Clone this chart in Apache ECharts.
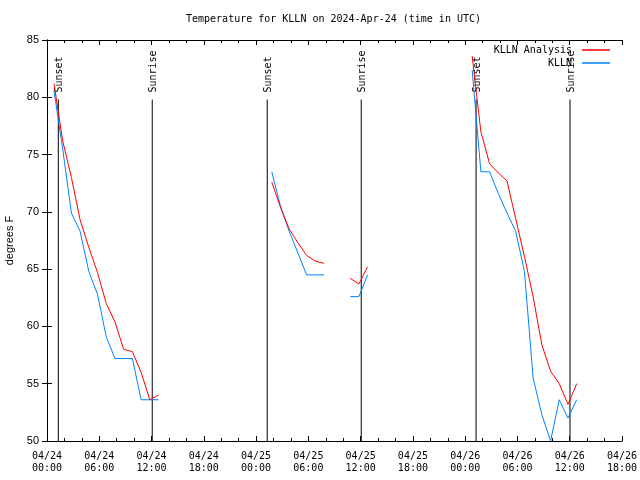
<!DOCTYPE html>
<html>
<head>
<meta charset="utf-8">
<script src="https://cdn.jsdelivr.net/npm/echarts@6/dist/echarts.min.js"></script>
<style>
html,body{margin:0;padding:0;background:#fff;}
#chart{width:640px;height:480px;}
</style>
</head>
<body>
<div id="chart"></div>
<script>
// Hours since 2024-04-24 00:00 UTC
var tickLabels = ["04/24\n00:00","04/24\n06:00","04/24\n12:00","04/24\n18:00",
                  "04/25\n00:00","04/25\n06:00","04/25\n12:00","04/25\n18:00",
                  "04/26\n00:00","04/26\n06:00","04/26\n12:00","04/26\n18:00"];

var times1 = [0.8,1.8,2.8,3.8,4.8,5.8,6.8,7.8,8.8,9.8,10.8,11.8,12.8];
var analysis1 = [81.2,76.2,73.0,69.3,66.9,64.7,62.0,60.4,58.0,57.8,56.0,53.6,54.0];
var obs1 = [80.6,75.5,69.9,68.3,64.8,62.8,59.1,57.2,57.2,57.2,53.6,53.6,53.6];

var times2 = [25.8,26.8,27.8,28.8,29.8,30.8,31.8];
var analysis2 = [72.6,70.4,68.5,67.3,66.2,65.7,65.5];
var obs2 = [73.5,70.5,68.3,66.4,64.5,64.5,64.5];

var times3 = [34.8,35.8,36.8];
var analysis3 = [64.2,63.7,65.2];
var obs3 = [62.6,62.6,64.5];

var times4 = [48.8,49.8,50.8,51.8,52.8,53.8,54.8,55.8,56.8,57.8,58.8,59.8,60.8];
var analysis4 = [83.6,77.0,74.2,73.4,72.7,69.4,66.1,62.6,58.4,56.1,55.0,53.2,55.0];
var obs4 = [82.4,73.5,73.5,71.6,69.9,68.3,64.8,55.5,52.3,50.0,53.6,52.0,53.6];

var sunTimes = [1.30,12.08,25.28,36.07,49.25,60.03];
var sunLabels = ["Sunset","Sunrise","Sunset","Sunrise","Sunset","Sunrise"];
var sunLineTop = 79.8;

function build(segs){
  var out = [];
  segs.forEach(function(s, si){
    if (si > 0) out.push([s[0][0] - 0.5, null]);
    for (var i = 0; i < s[0].length; i++) out.push([s[0][i], s[1][i]]);
  });
  return out;
}
var analysisData = build([[times1,analysis1],[times2,analysis2],[times3,analysis3],[times4,analysis4]]);
var obsData = build([[times1,obs1],[times2,obs2],[times3,obs3],[times4,obs4]]);

var MONO = 'DejaVu Sans Mono';
var SANS = 'Liberation Sans';

var chart = echarts.init(document.getElementById('chart'), null, {renderer:'canvas'});
var xBase = {
  type:'value', min:0, max:66, interval:6,
  axisLine:{show:true, lineStyle:{color:'#000', width:1}},
  axisTick:{show:true, inside:true, length:5, lineStyle:{color:'#000'}},
  minorTick:{show:true, splitNumber:3, length:3, lineStyle:{color:'#000'}},
  splitLine:{show:false}
};
var yBase = {
  type:'value', min:50, max:85, interval:5,
  axisLine:{show:true, lineStyle:{color:'#000', width:1}},
  axisTick:{show:true, inside:true, length:5, lineStyle:{color:'#000'}},
  splitLine:{show:false}
};
chart.setOption({
  animation:false,
  backgroundColor:'#fff',
  title:{
    text:'Temperature for KLLN on 2024-Apr-24 (time in UTC)',
    left:186, top:14, padding:0,
    textStyle:{fontFamily:MONO, fontSize:10, fontWeight:'normal', color:'#000'}
  },
  legend:{
    orient:'vertical', align:'right', right:30, top:45, padding:0,
    itemWidth:28, itemHeight:1.5, itemGap:3, icon:'rect',
    selectedMode:false,
    textStyle:{fontFamily:MONO, fontSize:10, color:'#000', padding:[0,5,0,0]},
    data:['KLLN Analysis','KLLN']
  },
  grid:{left:47, right:18, top:40, bottom:39, containLabel:false, outerBoundsMode:'none'},
  xAxis:[
    Object.assign({}, xBase, {
      position:'bottom',
      axisLabel:{show:true, margin:9, lineHeight:12, fontFamily:MONO, fontSize:10, color:'#000',
        hideOverlap:false,
        formatter:function(v){ return tickLabels[Math.round(v/6)]; }}
    }),
    Object.assign({}, xBase, {position:'top', axisLabel:{show:false}})
  ],
  yAxis:[
    Object.assign({}, yBase, {
      position:'left',
      name:'degrees F', nameLocation:'middle', nameRotate:90, nameGap:32,
      nameTextStyle:{fontFamily:SANS, fontSize:11, color:'#000'},
      axisLabel:{show:true, margin:8, fontFamily:SANS, fontSize:11, color:'#000'}
    }),
    Object.assign({}, yBase, {position:'right', axisLabel:{show:false}})
  ],
  series:[
    {
      type:'custom', silent:true, z:1,
      xAxisIndex:0, yAxisIndex:0,
      data: sunTimes.map(function(t,i){ return [t, i]; }),
      renderItem:function(params, api){
        var x = api.value(0);
        var top = api.coord([x, sunLineTop]);
        var bot = api.coord([x, 50]);
        return {type:'group', children:[
          {type:'line', shape:{x1:top[0], y1:top[1], x2:bot[0], y2:bot[1]},
           style:{stroke:'#000', lineWidth:1}},
          {type:'text', x:top[0]+1, y:top[1]-7, rotation:Math.PI/2,
           style:{text:sunLabels[params.dataIndex], font:'10px "DejaVu Sans Mono"', fill:'#000',
                  align:'left', verticalAlign:'middle'}}
        ]};
      }
    },
    {
      name:'KLLN Analysis', type:'line', data:analysisData, showSymbol:false, connectNulls:false,
      color:'#ff0000', lineStyle:{color:'#ff0000', width:1}, z:3
    },
    {
      name:'KLLN', type:'line', data:obsData, showSymbol:false, connectNulls:false,
      color:'#0080ff', lineStyle:{color:'#0080ff', width:1}, z:2
    }
  ]
});
</script>
</body>
</html>
